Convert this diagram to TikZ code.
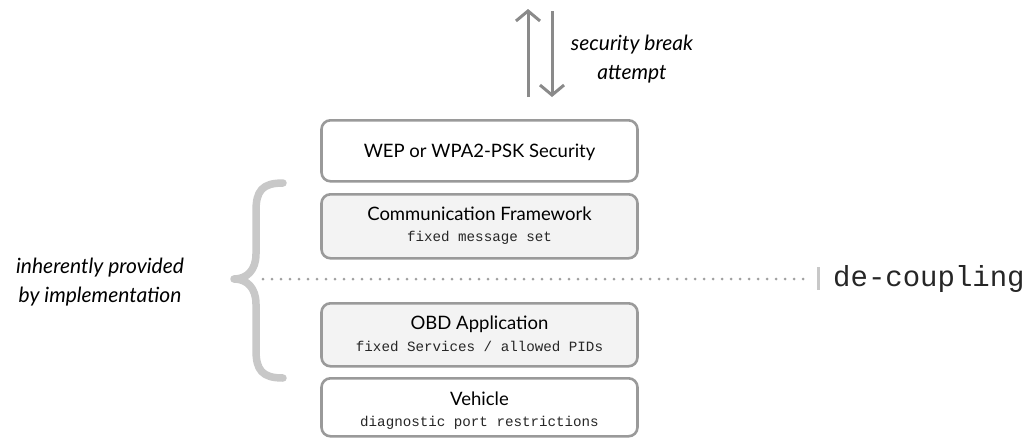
\documentclass[tikz,border=0pt]{standalone}
\usepackage{fontspec}
\setmainfont{Lato}
\setmonofont{Liberation Mono}
\usetikzlibrary{arrows.meta}
\definecolor{boxline}{HTML}{9A9A9A}
\definecolor{boxfill}{HTML}{F3F3F3}
\definecolor{arrowgray}{HTML}{8A8A8A}
\definecolor{bracegray}{HTML}{C8C8C8}
\definecolor{dotgray}{HTML}{A0A0A0}
\tikzset{
  layer/.style={draw=boxline, line width=2.6pt, rounded corners=9pt,
    minimum width=316pt, inner sep=0pt, anchor=north},
  title/.style={font=\fontsize{18.5}{21}\selectfont, text=black},
  codetext/.style={font=\ttfamily\fontsize{14.2}{16}\selectfont, text=black!85},
  flow/.style={draw=arrowgray, line width=3pt,
    -{Straight Barb[length=10pt,width=24pt,line width=3pt]}},
  remark/.style={font=\itshape\fontsize{21}{29}\selectfont, align=center, text=black}
}
\begin{document}
\begin{tikzpicture}[x=1pt,y=-1pt]
\useasboundingbox (0,0) rectangle (1029,437);

% protocol stack
\node[layer, fill=white, minimum height=61pt] (sec) at (479.5,119) {};
\node[title] (sect) at (479.5,152) {WEP or WPA2-PSK Security};

\node[layer, fill=boxfill, minimum height=64pt] (com) at (479.5,193) {};
\node[title] (comt) at (479.5,214) {Communication Framework};
\node[codetext] (comc) at (479.5,238) {fixed message set};

\node[layer, fill=boxfill, minimum height=63pt] (obd) at (479.5,302) {};
\node[title] (obdt) at (479.5,324) {OBD Application};
\node[codetext] (obdc) at (479.5,346) {fixed Services / allowed PIDs};

\node[layer, fill=white, minimum height=58pt] (veh) at (479.5,377) {};
\node[title] (veht) at (479.5,399) {Vehicle};
\node[codetext] (vehc) at (479.5,423) {diagnostic port restrictions};

% attack arrows above the stack
\coordinate (upfoot) at (528,97);
\coordinate (uphead) at (528,9);
\coordinate (dnfoot) at (552,11);
\coordinate (dnhead) at (552,97);
\draw[flow] (upfoot) -- (uphead);
\draw[flow] (dnfoot) -- (dnhead);
\node[remark] (atk) at (632,59) {security break\\attempt};

% brace grouping the two inner layers
\draw[bracegray, line width=7.5pt, line cap=round, line join=round]
  (283,183) .. controls (262,183) and (256,191) .. (256,211)
  -- (256,254) .. controls (256,270) and (247,279) .. (234,279)
  .. controls (247,279) and (256,288) .. (256,304)
  -- (256,350) .. controls (256,370) and (262,378) .. (283,378);
\node[remark] (impl) at (100,282) {inherently provided\\by implementation};

% de-coupling line
\coordinate (dstart) at (263,279);
\coordinate (dend) at (810,279);
\draw[dotgray, line width=3pt, line cap=round, dash pattern=on 0pt off 9pt]
  (dstart) -- (dend);
\coordinate (bartop) at (818,267);
\coordinate (barbot) at (818,290);
\draw[bracegray, line width=3pt] (bartop) -- (barbot);
\node[font=\ttfamily\fontsize{29}{31}\selectfont, anchor=west, text=black!85, inner sep=0pt] (dec) at (833,279) {de-coupling};
\end{tikzpicture}
\end{document}
